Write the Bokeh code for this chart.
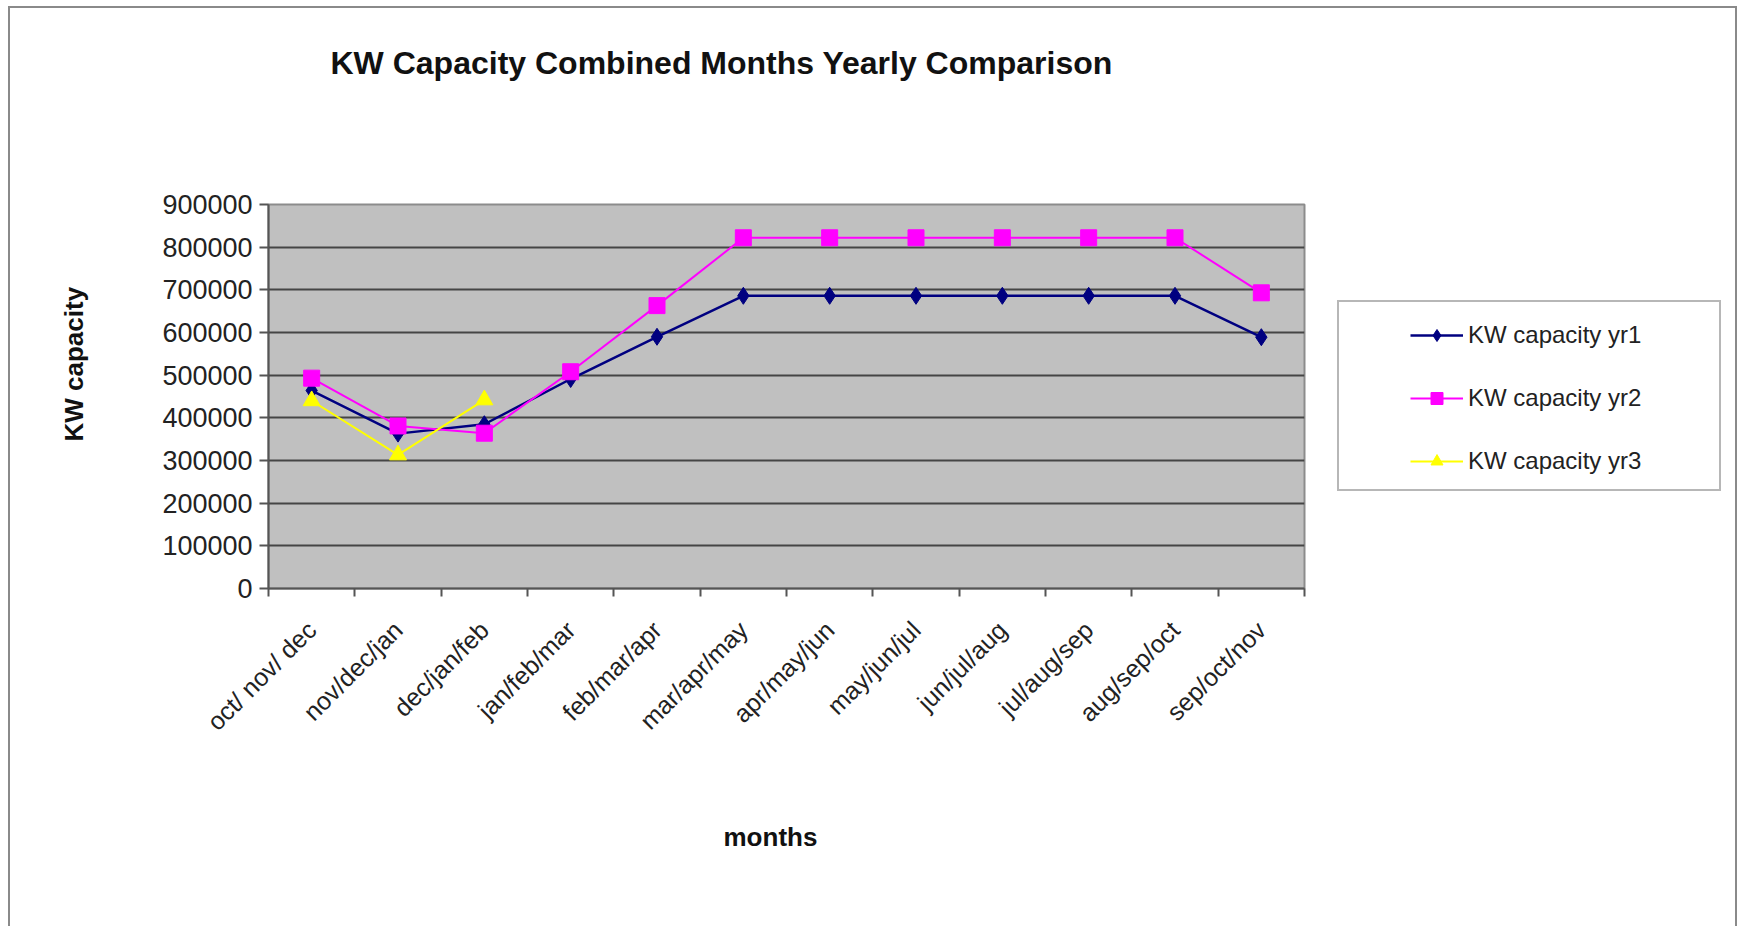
from math import pi
from bokeh.plotting import figure
from bokeh.layouts import row
from bokeh.models import Range1d, FixedTicker, NumeralTickFormatter, Legend, LegendItem, Title
from bokeh.embed import file_html
from bokeh.resources import INLINE

# ---------------- data ----------------
title_text = "KW Capacity Combined Months Yearly Comparison"
x_title = "months"
y_title = "KW capacity"
months = ["oct/ nov/ dec", "nov/dec/jan", "dec/jan/feb", "jan/feb/mar", "feb/mar/apr",
          "mar/apr/may", "apr/may/jun", "may/jun/jul", "jun/jul/aug", "jul/aug/sep",
          "aug/sep/oct", "sep/oct/nov"]
yr1 = [464000, 363000, 385000, 491000, 590000, 686000, 686000, 686000, 686000, 686000, 686000, 589000]
yr2 = [493000, 381000, 364000, 508000, 663000, 822000, 822000, 822000, 822000, 822000, 822000, 693000]
yr3 = [440000, 313000, 442000]
series_names = ["KW capacity yr1", "KW capacity yr2", "KW capacity yr3"]
y_ticks = [0, 100000, 200000, 300000, 400000, 500000, 600000, 700000, 800000, 900000]

# ---------------- styles ----------------
FONT = "Liberation Sans"
C1, C2, C3 = "#000080", "#FF00FF", "#FFFF00"
W, H = 1743, 926
W1 = 1324                               # main figure width
FL, FR, FT, FB = 268, 1304, 204, 588    # frame edges (page px)

xs = [i + 0.5 for i in range(len(months))]
bounds = list(range(len(months) + 1))

p = figure(width=W1, height=H, output_backend="svg", toolbar_location=None,
           x_range=Range1d(0, len(months)), y_range=Range1d(0, y_ticks[-1]),
           min_border_left=FL, min_border_right=W1 - FR,
           min_border_top=FT, min_border_bottom=H - FB)
p.background_fill_color = "#C0C0C0"
p.border_fill_alpha = 0
p.outline_line_color = "#8c8c8c"
p.outline_line_width = 2

p.xgrid.visible = False
p.ygrid.ticker = FixedTicker(ticks=y_ticks)
p.ygrid.grid_line_color = "#454545"
p.ygrid.grid_line_width = 2

ya = p.yaxis[0]
ya.ticker = FixedTicker(ticks=y_ticks)
ya.formatter = NumeralTickFormatter(format="0")
ya.major_tick_out = 9
ya.major_tick_in = 0
ya.minor_tick_out = 0
ya.minor_tick_in = 0
ya.major_label_standoff = 7
ya.axis_line_color = "#555555"
ya.axis_line_width = 2
ya.major_tick_line_color = "#555555"
ya.major_tick_line_width = 2
ya.major_label_text_font = FONT
ya.major_label_text_font_size = "27px"
ya.major_label_text_color = "#222222"

xa = p.xaxis[0]
xa.ticker = FixedTicker(ticks=xs, minor_ticks=bounds)
xa.major_label_overrides = {x: m for x, m in zip(xs, months)}
xa.major_tick_out = 0
xa.major_tick_in = 0
xa.minor_tick_out = 8
xa.minor_tick_in = 0
xa.minor_tick_line_color = "#555555"
xa.minor_tick_line_width = 2
xa.major_label_orientation = pi / 4
xa.major_label_standoff = 29
xa.axis_line_color = "#555555"
xa.axis_line_width = 2
xa.major_label_text_font = FONT
xa.major_label_text_font_size = "25px"
xa.major_label_text_color = "#222222"

# series
r1l = p.line(xs, yr1, line_color=C1, line_width=2.5)
r1m = p.scatter(xs, yr1, marker="diamond", size=17, fill_color=C1, line_color=C1)
r2l = p.line(xs, yr2, line_color=C2, line_width=2)
r2m = p.scatter(xs, yr2, marker="square", size=16, fill_color=C2, line_color=C2)
r3l = p.line(xs[:len(yr3)], yr3, line_color=C3, line_width=2)
r3m = p.scatter(xs[:len(yr3)], yr3, marker="triangle", size=17, fill_color=C3, line_color=C3)

# titles (thin spacer titles push the real ones to their places)
p.add_layout(Title(text=" ", standoff=121, text_font_size="1px"), "above")
p.add_layout(Title(text=title_text, align="left", offset=62, vertical_align="bottom", standoff=0,
                   text_font=FONT, text_font_style="bold", text_font_size="32px",
                   text_color="#111111"), "above")
p.add_layout(Title(text=" ", standoff=68, text_font_size="1px"), "left")
p.add_layout(Title(text=y_title, align="left", offset=147, vertical_align="bottom", standoff=0,
                   text_font=FONT, text_font_style="bold", text_font_size="26px",
                   text_color="#111111"), "left")
p.add_layout(Title(text=" ", standoff=70, text_font_size="1px"), "below")
p.add_layout(Title(text=x_title, align="left", offset=455, vertical_align="top", standoff=0,
                   text_font=FONT, text_font_style="bold", text_font_size="26px",
                   text_color="#111111"), "below")

# ---------------- legend panel ----------------
LW = W - W1
lf = figure(width=LW, height=H, output_backend="svg", toolbar_location=None,
            x_axis_location=None, y_axis_location=None,
            x_range=Range1d(0, 1), y_range=Range1d(0, 1),
            min_border_left=0, min_border_right=0,
            min_border_top=FT, min_border_bottom=H - FB)
lf.xgrid.visible = False
lf.ygrid.visible = False
lf.background_fill_alpha = 0
lf.border_fill_alpha = 0
lf.outline_line_alpha = 0

# legend sample glyphs (kept outside the visible range; used only for the key)
g1l = lf.line(x=[-5, -4], y=[-5, -4], line_color=C1, line_width=2.5)
g1m = lf.scatter(x=[-5], y=[-5], marker="diamond", size=17, fill_color=C1, line_color=C1)
g2l = lf.line(x=[-5, -4], y=[-5, -4], line_color=C2, line_width=2)
g2m = lf.scatter(x=[-5], y=[-5], marker="square", size=16, fill_color=C2, line_color=C2)
g3l = lf.line(x=[-5, -4], y=[-5, -4], line_color=C3, line_width=2)
g3m = lf.scatter(x=[-5], y=[-5], marker="triangle", size=17, fill_color=C3, line_color=C3)
dummy = lf.scatter(x=[-5], y=[-5], size=1, fill_alpha=0, line_alpha=0)

# legend frame box
bx0, by0, bx1, by1 = 1337, 304, 1717, 491
legA = Legend(items=[LegendItem(label=" ", renderers=[dummy])],
              location=(bx0 - W1, FB - by1), padding=0, margin=0, spacing=0,
              glyph_width=10, glyph_height=by1 - by0, label_width=bx1 - bx0 - 10,
              label_height=by1 - by0, label_standoff=0,
              border_line_color="#707070", border_line_width=2,
              background_fill_color="white", background_fill_alpha=1,
              label_text_alpha=0, label_text_font_size="1px")
lf.add_layout(legA, "center")

# legend entries
legB = Legend(items=[LegendItem(label=series_names[0], renderers=[g1l, g1m]),
                     LegendItem(label=series_names[1], renderers=[g2l, g2m]),
                     LegendItem(label=series_names[2], renderers=[g3l, g3m])],
              location=(1410 - W1, FB - 476), padding=0, margin=0, spacing=33,
              glyph_width=53, glyph_height=30, label_height=30, label_standoff=5,
              border_line_alpha=0, background_fill_alpha=0,
              label_text_font=FONT, label_text_font_size="24px", label_text_color="#222222")
lf.add_layout(legB, "center")

layout = row(p, lf, spacing=0)
layout.styles = {"box-shadow": ("inset 8px 0 0 0 #ffffff, inset 0 6px 0 0 #ffffff, "
                                "inset -6px 0 0 0 #ffffff, inset 10px 0 0 0 #8a8a8a, "
                                "inset 0 8px 0 0 #8a8a8a, inset -8px 0 0 0 #8a8a8a")}

open("out.html", "w").write(file_html(layout, INLINE))
